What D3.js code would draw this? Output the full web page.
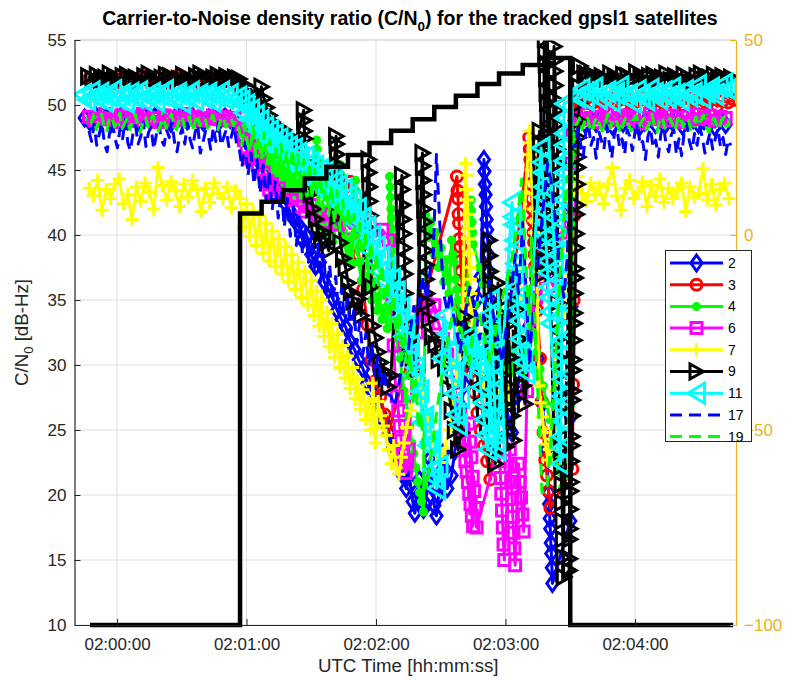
<!DOCTYPE html>
<html>
<head>
<meta charset="utf-8">
<script src="https://cdn.jsdelivr.net/npm/d3@7"></script>
<style>
html, body { margin: 0; padding: 0; background: #fff; }
svg { display: block; font-family: "Liberation Sans", Arial, Helvetica, sans-serif; }
</style>
</head>
<body>
<svg id="chart" width="792" height="680"></svg>
<script>
// ---------------------------------------------------------------------------
// C/N0 logs per satellite. Time is in seconds after 02:00:00 UTC.
// Each run is [startTime, sampleInterval, value, value, ...] in dB-Hz.
// ---------------------------------------------------------------------------
const prnLabels = ["2", "3", "4", "6", "7", "9", "11", "17", "19"];

const cn0Prn2 = [
  [-15, 2.5, 49.0,48.7,49.2,48.9,49.1,48.6,49.0,49.3,48.8,49.0,48.7,49.2,48.9,49.1,48.8,49.0,48.6,49.2,49.0,48.8,49.1,48.9,48.7,49.0,49.2,48.8,49.1,48.9],
  [56, 2, 48.4,47.6,48.0,46.9,46.5,45.6,45.9,44.8,44.2,43.5,43.9,42.4,41.9,41.2,40.8,39.6,39.9,38.5,37.6,37.9,36.4,35.8,35.1,34.2,33.5,32.9,31.8,31.2,30.4,29.7,28.6,28.0,27.2,26.3,25.6,24.8,23.7,22.9,21.6,20.5],
  [135, 1, 22.0,20.8,19.5,18.6,19.8,21.2,20.1,18.9,19.3,21.5,22.8,20.6,19.2,18.4,19.9,21.8,23.2,22.0,20.5],
  [155, 1.5, 21.5,23.4,25.0,26.8,28.5,30.2,32.0,33.6,35.1,36.8],
  [170, 0.25, 45.8,44.9,43.9,43.1,42.2,41.2,40.4,39.6,38.5,37.2],
  [173, 2, 35.0,32.6,30.4,28.5,26.2,24.8,27.5,29.8,31.5,33.0,34.2,30.5,27.0,23.5],
  [200, 0.25, 20.2,19.3,18.2,17.4,16.3,15.5,14.4,13.2],
  [210, 0.3, 18.0,26.0,34.5,42.0,47.5],
  [212, 2.5, 48.8,49.0,48.5,48.9,48.6,49.1,48.7,48.4,48.9,48.6,49.0,48.8,48.3,48.7,49.0,48.5,48.9,48.6,48.8,49.1,48.4,48.7,48.9,48.5,48.8,48.6,48.3,48.9,48.5]
];

const cn0Prn3 = [
  [-13, 2.5, 52.0,51.8,52.1,51.9,52.2,51.7,52.0,52.1,51.8,52.0,52.2,51.9,51.8,52.1,52.0,51.7,52.2,51.9,52.0,52.1,51.8,52.0,51.9,52.2,52.0,51.8,52.1,51.9],
  [57, 1.5, 51.2,50.8,50.2,50.0,49.4,48.8,48.5,47.9,47.2,46.8],
  [72, 3, 47.0,46.3,46.8,45.9,46.1,45.4,45.0,45.6,44.8,44.2,44.7,43.6,44.1],
  [110, 2, 41.2,38.5,35.8,33.1,30.4,28.8,27.6,26.2,24.9],
  [157.5, 0.25, 44.5,43.4,42.8,41.6,40.9,39.7,39.1,38.0,37.2,36.5,35.3,34.7,33.6],
  [161, 1.5, 32.4,30.8,29.5,27.9,26.3,25.0,23.8,22.6,21.2],
  [191, 0.25, 47.5,46.6,45.8,44.7,43.9,42.8,42.0,41.1,40.2,39.4,38.5,37.6,36.7,35.9,35.0,34.2],
  [196, 0.8, 30.5,27.2,24.8,22.7,21.5,20.3,19.0],
  [211, 0.3, 22.0,28.5,35.0,41.5,47.0,50.2],
  [213, 2.6, 50.4,50.1,50.6,50.2,50.3,49.9,50.5,50.2,50.0,50.4,50.1,50.3,50.6,50.2,49.9,50.3,50.1,50.4,50.2,50.0,50.5,50.3,50.1,50.2,50.4,49.9,50.3,50.2,50.4]
];

const cn0Prn4 = [
  [-13, 2.5, 48.8,49.1,48.6,48.9,49.2,48.7,48.9,48.5,49.0,48.8,49.1,48.6,48.9,48.7,49.2,48.8,48.5,49.0,48.9,48.7,49.1,48.8,48.6,49.0,48.9,48.7,49.1,48.8],
  [58, 1.3, 48.4,47.2,48.0,46.6,47.5,46.1,47.0,45.7,46.6,45.3,46.2,44.9,45.8,44.4,45.3,44.0,44.9,43.6,44.5,43.1,44.0,42.7,43.6,42.2,43.1,41.8],
  [92.5, 0.2, 47.3,46.6,45.8,45.0,44.1,43.2],
  [94, 1.2, 41.5,40.6,42.0,40.1,41.3,39.5,40.7],
  [103.5, 0.2, 45.4,44.6,43.7,42.8,41.9,41.0,40.1],
  [105.5, 1.2, 39.3,38.2,39.6,37.8],
  [110.5, 0.2, 44.2,43.4,42.5,41.6,40.7,39.8],
  [112, 1.2, 37.9,36.5,37.6,35.8,36.9,35.0,36.1,34.2,35.3,33.5,34.4,32.8],
  [126.3, 0.2, 44.5,43.7,42.9,42.0,41.3,40.5,39.6,38.8,37.2,35.0],
  [128.5, 0.9, 33.6,32.4,31.2,30.5,29.1,28.0,27.4,26.1,25.3,24.0,23.2,22.1,21.0,20.2,19.5,18.7],
  [143, 1.2, 41.5,39.8,41.0,38.6,40.2,37.5,39.0,36.4,38.1,35.5],
  [155, 0.6, 39.6,38.5,37.9,36.6,35.8,35.0,34.1,33.5,32.7,32.0,33.2,32.4],
  [164, 0.25, 42.7,41.9,41.0,40.2,39.3],
  [168, 1.6, 37.5,36.2,34.8,33.9,33.0,32.1,31.5,30.6,30.0,29.4,31.2,30.1,29.5,28.8],
  [190, 1.5, 35.2,33.8,32.5,31.0,29.7,28.4,27.0,25.8,24.5,23.0,21.8,20.6,21.5,23.2],
  [210.5, 0.4, 27.0,34.0,41.0,46.5],
  [212.5, 2.5, 48.9,48.6,49.1,48.7,48.9,48.5,49.0,48.8,48.6,49.2,48.7,48.9,48.8,48.5,49.0,48.9,48.6,49.1,48.8,48.7,48.9,49.0,48.6,48.8,49.1,48.7,48.9,48.8,48.6]
];

const cn0Prn6 = [
  [-13, 2.5, 49.1,48.8,49.0,49.3,48.9,48.7,49.2,49.0,48.8,49.1,49.3,48.9,49.0,48.7,49.2,49.1,48.8,49.0,49.3,48.9,49.1,48.8,49.0,49.2,48.9,49.1,48.8,49.0],
  [57.5, 1.3, 48.2,47.3,46.6,45.9,46.8,46.1,45.4,45.9,44.8,44.2,43.5,43.9,43.2],
  [75, 3, 43.6,43.0,42.7,42.2,41.8,42.3,41.5,41.0,41.6,40.8,41.2,40.5,41.0,40.2,40.8,39.9,40.4,39.6],
  [127.5, 0.7, 35.2,31.5,28.8,27.6,26.5,25.3,24.2,23.1,22.4,21.7,22.6,23.5],
  [137, 2, 30.2,32.5,34.1,35.0,33.8,34.6,33.2,32.0,30.8,29.5,27.8],
  [159, 0.6, 26.0,25.2,24.3,23.5,22.6,21.8,21.0,20.1,19.3,18.4,17.6],
  [163, 0.6, 25.5,24.1,22.9,21.4,20.3,19.0,17.5],
  [177, 0.35, 23.8,22.6,21.3,20.1,18.8,17.5,16.2,15.0],
  [182, 0.35, 23.5,22.2,21.0,19.7,18.3,17.1,15.9,14.6],
  [186, 0.6, 22.4,21.0,19.8,18.5,17.2],
  [190, 2, 28.0,33.5,35.2,36.8,38.2,37.0,36.1,38.5,40.2],
  [210, 0.5, 42.0,45.5,48.0],
  [212, 2.5, 49.2,48.9,49.3,49.0,48.7,49.1,49.4,48.8,49.0,49.2,48.9,49.1,48.6,49.0,49.3,48.9,49.1,48.8,49.2,49.0,48.7,49.1,49.3,48.9,49.0,49.2,48.8,49.1,49.0]
];

const cn0Prn7 = [
  [-13, 2, 43.6,43.0,44.2,41.9,43.5,42.8,43.9,44.3,42.4,43.1,41.2,43.7,42.6,44.0,43.3,42.0,45.2,43.8,42.7,44.1,43.4,42.2,43.9,42.9,44.2,43.5,41.8,43.6,42.5,44.0,43.2,42.8,43.7,42.1,43.4],
  [57, 1.5, 42.8,40.6,42.4,39.9,41.8,39.2,41.5,38.6,40.9,38.0,40.3,37.6,39.7,37.0,39.1,36.4,38.5,35.8,37.9,35.2,37.2,34.6],
  [90, 1.2, 36.5,33.8,35.7,33.0,35.0,32.2,34.1,31.4,33.2,30.6,32.4,29.8,31.5,29.0,30.7,28.2,29.8,27.4,28.9,26.6,28.1,25.8,27.2,25.0],
  [118.5, 0.3, 28.6,27.4,26.3,25.1,24.0],
  [121, 1.2, 27.2,26.1,25.3,24.6,23.5,22.4,23.8,22.1,21.6,22.9,24.0,25.2],
  [136, 2, 26.5,28.0,29.2,27.5,25.8,24.4,23.1,22.5,23.6,25.0,27.3,30.1,33.0],
  [161.5, 0.25, 45.5,44.6,43.5,42.7,41.6,40.5,39.7,38.6,37.5,36.6,35.5,34.4,33.6,32.7],
  [165.5, 1.5, 31.8,30.5,29.6,28.4,27.5,28.9,27.2,26.4,27.8,26.9,28.6,27.4,26.8],
  [191, 0.3, 48.0,47.1,46.2,45.0,44.1,43.2,42.0,41.1,40.2,39.0,38.1,37.2,36.5],
  [195.5, 0.8, 28.4,27.1,26.0,24.8,23.9,22.7,23.5,25.1,26.8],
  [203, 1.5, 28.0,30.5,32.0,35.5,39.0],
  [211.5, 2, 43.5,44.5,43.2,42.6,44.0,43.1,43.7,42.4,43.9,45.2,43.0,41.9,43.6,44.2,42.8,43.3,44.1,42.2,43.8,43.0,44.3,42.5,43.6,42.8,43.4,44.0,41.8,43.7,42.9,43.2,45.1,42.7,43.9,42.3,43.5,44.0,42.8]
];

const cn0Prn9 = [
  [-13.4, 2, 52.2,52.0,52.3,51.9,52.1,52.4,52.0,51.8,52.2,52.3,52.0,52.1,51.9,52.2,52.4,52.0,51.8,52.1,52.3,52.2,51.9,52.0,52.3,52.1,51.8,52.2,52.4,52.0,51.9,52.1,52.3,52.0,52.2,51.9,52.1,52.0],
  [58.5, 1.2, 51.6,51.0,50.4,51.2,50.6,50.0,49.6,51.4,50.5,49.8,49.2,48.7,48.3],
  [74, 1.5, 48.4,47.8,48.1,47.3,47.6,46.9,47.2],
  [86.5, 0.15, 49.6,48.8,48.0,47.4],
  [88.5, 1.2, 45.5,43.2,42.0,41.2,40.3,39.6,40.2,39.4,38.8],
  [101.5, 0.2, 47.6,47.0,46.2,45.4,44.5,43.0,41.5],
  [103.5, 1.2, 39.4,38.2,37.5,36.3,35.6,34.9,34.2,35.1,33.8],
  [116.5, 0.2, 45.8,44.8,43.7,42.6,41.5,40.4,38.5,36.0],
  [118.5, 1.2, 33.0,32.1,31.0,30.2,29.5,29.0,28.3,29.2],
  [132, 0.2, 44.6,43.5,42.3,41.2,40.1,39.0,38.0,37.0,35.5],
  [134, 1.5, 33.5,31.8,30.5,29.6],
  [141.5, 0.2, 46.3,45.3,44.2,43.1,42.0,41.0,39.9,38.8,37.7,36.6,35.5,34.8],
  [144.5, 1.5, 33.5,32.2,31.6,30.4,31.5,29.8,28.2,26.5,25.0,23.5,24.8,33.7,32.6,31.7],
  [165.5, 1.5, 30.5,29.0,27.8,26.4,25.2],
  [172.5, 0.2, 39.6,38.4,37.2,35.9,34.7,33.4,32.1,30.9,29.6,28.4,27.1,25.9,24.6,23.4,22.4],
  [176.5, 0.6, 36.3,34.0,31.5,29.2,27.0,25.2,23.7,35.2,33.1,30.6,28.3,26.1,24.2],
  [185, 0.8, 36.5,34.2,32.0,30.1,28.4,27.0],
  [195.8, 0.15, 48.0,47.0,46.0,45.0,44.0,43.0,42.0,41.0,40.0,39.0,38.0,37.0],
  [198, 0.2, 56.0,55.1,54.0,53.2,52.1,51.0,50.2,49.1,48.0,47.2,46.1,45.0,44.2,43.1,42.0,41.2,40.1,39.0,38.2,37.0],
  [202.5, 0.2, 54.5,53.4,52.6,51.5,50.4,49.6,48.5,47.4,46.6,45.5],
  [204, 0.2, 34.8,33.4,32.0,30.6,29.2,27.8,26.4,25.0,23.6,22.2,20.8,19.4,18.0,16.6,15.2,13.7],
  [209.5, 0.15, 14.2,15.1,16.6,17.4,18.9,20.3,21.0,22.6,23.8,24.5,26.1,27.3,28.0,29.6,30.4,31.9,33.2,34.0,35.5,36.7,37.4,39.0,40.1,41.6,42.3,43.9,45.2,46.0,47.5,48.8,50.1,51.4],
  [214.5, 2, 53.0,52.4,52.1,52.3,51.9,52.2,52.0,52.4,52.1,51.8,52.3,52.2,52.0,52.5,52.1,51.9,52.2,52.3,52.0,52.1,52.4,51.9,52.2,52.0,52.3,52.1,51.8,52.2,52.4,52.0,52.1,52.3,51.9,52.2,52.0,52.1]
];

const cn0Prn11 = [
  [-16, 2, 50.8,50.4,51.0,50.6,50.9,50.3,50.7,51.1,50.5,50.8,50.2,50.9,50.6,51.0,50.4,50.7,50.9,50.3,50.8,51.1,50.5,50.6,50.9,50.2,50.7,51.0,50.4,50.8,50.6,50.9,50.3,50.7,51.0,50.5,50.8,50.4,50.6],
  [57.5, 1.1, 50.3,49.4,50.0,48.9,49.6,48.5,49.2,48.0,48.8,47.6,48.3,47.2,48.0,46.9,47.7,46.5,47.4,46.2,47.1,45.8,46.8,45.5,46.6,45.3,46.3,45.9,44.8,46.0,44.5,45.6,44.2,45.3,43.9,45.0,43.6,44.8,43.2,44.5,42.9,44.1,42.6,43.8,42.2,43.5,41.9,43.0,41.5,42.6,40.9,42.0,40.2,41.3,39.5,40.6,38.8,39.9,38.0,39.1,37.2,38.3,36.5],
  [125, 1.1, 37.5,35.6,36.6,34.7,35.6,33.5,34.4,32.2,33.0,30.8,31.5,29.2,29.8,27.5,28.0,25.6,26.0,23.8,24.1,22.0,21.3,20.5,22.2],
  [150.5, 1.1, 30.5,33.8,32.4,31.0,29.4,27.8,26.2,25.4,27.5,29.8,31.5,32.2,31.4,30.6,31.3,30.1,29.6],
  [168.5, 0.8, 28.3,27.1,25.8,24.6,23.5,24.8],
  [173, 0.25, 35.0,34.0,33.1,32.0,31.1,30.0,29.0,28.1,27.0,26.1,25.0,24.1,23.5],
  [183, 0.3, 42.5,41.4,40.8,39.6,38.9,37.8,37.1,36.0,35.2,34.3,33.4],
  [186.5, 1, 32.0,31.1,30.2,29.4],
  [196.5, 0.3, 46.7,45.6,44.8,43.7,42.9,41.8,40.9,39.9,39.0,38.0,37.1,36.0,35.2,34.1,33.2],
  [205.5, 0.06, 22.4,23.6,24.5,25.7,26.8,27.6,28.9,29.7,30.8,31.9,32.7,33.9,34.8,35.9,36.7,37.8,38.9,39.7,40.9,41.8,42.7,43.9,44.8,45.7,46.9,47.8,49.0,50.1],
  [213, 2, 50.6,51.2,50.4,50.9,51.3,50.5,50.8,51.0,50.3,50.9,51.4,50.6,50.8,50.2,51.1,50.7,50.4,51.2,50.9,50.5,51.0,50.6,51.3,50.8,50.4,51.1,50.7,50.9,51.5,50.6,51.0,51.3,50.8,51.4,51.6,51.2]
];

const cn0Prn17 = [
  [-13, 1.2, 48.0,47.2,48.5,46.9,47.8,48.6,47.0,46.4,47.9,48.8,47.5,46.7,48.2,47.4,48.9,47.1,46.5,47.8,48.4,47.0,47.6,48.7,46.8,47.9,48.3,46.6,47.7,48.5,47.3,46.9,48.1,47.5,48.8,47.2,46.4,47.6,48.2,47.0,48.6,47.4,46.7,47.9,48.5,46.3,47.1,48.0,47.7,46.6,48.3,47.2,48.7,46.9,47.5,48.1,46.8,47.6,48.4,47.0],
  [56.5, 1.4, 46.8,45.2,47.1,44.6,46.3,43.9,45.8,43.2,45.4,42.6,44.9,41.9,44.1,41.3,43.5,40.6,42.8,39.9,42.2,39.2,41.5,38.6,40.7,37.9,40.1,37.1,39.3,36.4,38.5,35.6,37.7,34.9,36.8,34.1,35.9,33.2,35.1,32.4,34.2,31.6,33.3,30.8,32.4,30.0,31.5,29.2,30.6,28.5,29.6,27.8],
  [127, 1.5, 27.6,26.8,27.9,29.5,31.2,30.4,32.8,34.5,33.2,35.6,36.8,35.1,37.2,38.4],
  [148, 0.3, 46.2,45.1,44.0,43.2,42.1,41.0,40.2,39.1,38.0,37.2],
  [151.5, 1.5, 35.4,34.1,35.6,33.8,32.5,31.0,33.2,34.6,36.0,34.8,33.5,32.0,33.6,35.1,36.5,34.2,32.8,31.5,30.2,32.4,34.0,36.2,38.5,35.5],
  [188, 0.4, 41.0,39.5,38.2,36.8,35.5,34.1,32.6,31.3,30.0],
  [192, 1.5, 32.5,35.0,37.8,40.5,43.0,45.5,44.2,42.0,39.5,37.0,35.2,38.0],
  [210, 1.2, 44.0,47.5,46.8,48.2,47.0,46.0,47.9,48.6,46.9,47.5,45.9,48.0,47.3,46.6,48.4,47.1,45.9,47.7,48.3,46.8,47.4,46.2,48.1,47.6,46.5,47.9,48.5,46.9,47.2,45.8,47.6,48.2,46.7,47.3,46.0,47.8,48.4,47.0,46.4,47.7,48.1,46.2,47.4,46.1,47.9,48.6,47.2,46.5,47.8,46.9,48.3,47.5,46.3,47.1,47.9,46.6,47.4,48.2,46.8,47.5,46.2,47.3,46.9]
];

const cn0Prn19 = [
  [-12, 1.2, 48.6,49.2,48.1,48.8,49.3,48.4,48.0,48.9,49.1,48.3,48.7,49.4,48.2,48.6,49.0,48.1,48.8,49.3,48.5,47.9,48.7,49.1,48.3,48.9,49.2,48.4,48.0,48.6,49.0,48.2,48.8,49.3,48.5,48.1,48.9,49.2,48.3,48.7,49.1,48.0,48.6,49.3,48.4,48.8,49.0,48.2,48.7,49.2,48.5,48.1,48.9,49.1,48.3,48.6,49.0,48.4,48.8],
  [56.5, 1.3, 48.2,46.9,48.6,47.1,46.4,48.3,46.0,47.6,45.8,47.9,45.5,47.3,45.1,46.8,44.6,47.0,44.9,46.4,44.2,46.6,44.0,46.2,43.6,45.8,43.1,45.5,42.8,45.1,42.4,44.6,41.9,44.3,41.5,43.8,40.9,43.4,40.3,42.7,39.8,42.1,39.2,41.6,38.5,40.9,37.8,40.2,37.0,39.5,36.1,38.6,35.3,37.7,34.2,36.5,33.0,35.4,31.8,34.1,30.4,32.6,29.0,30.9,27.2,28.8,25.1,26.3,22.4,20.6],
  [145, 2, 22.5,25.0,27.4,29.6,31.8,33.5,35.0,33.2,31.5,30.0,32.5,34.8,33.0,31.6,30.2,32.1,33.8,35.5,36.8,38.2,40.5],
  [187.5, 0.35, 44.3,43.1,42.0,40.8,39.7,38.5,37.4,36.2,35.1,33.9,32.8],
  [192, 0.35, 39.8,38.4,37.0,35.6,34.2,32.8,31.4,30.0,28.6,27.2,25.8,24.4,23.0,21.6,20.2],
  [197.5, 1.6, 20.2,20.3],
  [201, 1.5, 24.0,28.5,33.0,37.5,41.0,44.5],
  [210, 0.3, 40.2,41.8,43.0,44.6,45.9,47.2,48.5],
  [213, 1.2, 48.5,49.0,48.1,48.7,49.2,48.3,47.9,48.8,49.1,48.4,48.0,48.6,49.3,48.2,48.8,49.0,48.3,47.8,48.6,49.1,48.5,48.0,48.9,49.2,48.3,48.7,49.0,48.1,48.6,49.3,48.4,47.9,48.8,49.1,48.2,48.6,49.0,48.5,48.0,48.9,49.2,48.3,48.7,49.0,48.1,48.6,49.1,48.4,48.8,49.2,48.3,47.9,48.7,49.0,48.5,48.1,48.9,49.1,48.4,48.7]
];

// Right-axis step trace (change times in seconds and the held value).
const stepTimes  = [-12.5, 57, 67, 77, 87, 97, 107, 117, 127, 137, 147, 157, 167, 177, 188, 198, 210, 285.5];
const stepValues = [-100, 5.5, 8.5, 11.5, 14.5, 17.5, 20.5, 23.6, 26.7, 29.7, 32.8, 35.7, 38.7, 41.4, 43.6, 45.4, -100, -100];

// Axis ticks
const xTickSecs   = [0, 60, 120, 180, 240];
const xTickLabels = ["02:00:00", "02:01:00", "02:02:00", "02:03:00", "02:04:00"];
const yTicks      = [10, 15, 20, 25, 30, 35, 40, 45, 50, 55];
const yRightTicks = [-100, -50, 0, 50];

// ---------------------------------------------------------------------------
// Styling per series (same order as prnLabels)
// ---------------------------------------------------------------------------
const seriesData = [cn0Prn2, cn0Prn3, cn0Prn4, cn0Prn6, cn0Prn7, cn0Prn9, cn0Prn11, cn0Prn17, cn0Prn19];
const seriesColor = ["#0000ff", "#ff0000", "#00ff00", "#ff00ff", "#ffff00", "#000000", "#00ffff", "#0000ff", "#00ff00"];
const seriesMarker = ["diamond", "circle", "star", "square", "plus", "right", "left", null, null];
const seriesDash = [null, null, null, null, null, null, null, "12,7", "12,7"];

const markerPaths = {
  diamond: "M0,-8L5.6,0L0,8L-5.6,0Z",
  circle: "M5.5,0A5.5,5.5 0 1,1 -5.5,0A5.5,5.5 0 1,1 5.5,0Z",
  star: "M-4.5,0H4.5M0,-4.5V4.5M-3.2,-3.2L3.2,3.2M-3.2,3.2L3.2,-3.2",
  square: "M-5.5,-5.5H5.5V5.5H-5.5Z",
  plus: "M-6.5,0H6.5M0,-6.5V6.5",
  right: "M7,0L-6.5,-7.5L-6.5,7.5Z",
  left: "M-8.5,0L8,-10L8,10Z"
};

// ---------------------------------------------------------------------------
const plot = { left: 74.5, right: 736, top: 40, bottom: 625 };
const axisColor = "#262626";
const rightColor = "#EDB120";

const svg = d3.select("#chart");

const x = d3.scaleLinear().domain([-19.7, 286.8]).range([plot.left, plot.right]);
const y = d3.scaleLinear().domain([10, 55]).range([plot.bottom, plot.top]);
const yR = d3.scaleLinear().domain([-100, 50]).range([plot.bottom, plot.top]);

function expand(runs) {
  const pts = [];
  runs.forEach(r => {
    const t0 = r[0], dt = r[1];
    for (let i = 2; i < r.length; i++) pts.push([t0 + (i - 2) * dt, r[i]]);
  });
  return pts;
}

// grid
const grid = svg.append("g").attr("stroke", "#dfdfdf").attr("stroke-width", 1);
yTicks.forEach(v => grid.append("line")
  .attr("x1", plot.left).attr("x2", plot.right)
  .attr("y1", y(v)).attr("y2", y(v)));
xTickSecs.forEach(t => grid.append("line")
  .attr("x1", x(t)).attr("x2", x(t))
  .attr("y1", plot.top).attr("y2", plot.bottom));

// clip to the axes box
svg.append("defs").append("clipPath").attr("id", "plotClip")
  .append("rect").attr("x", plot.left).attr("y", plot.top)
  .attr("width", plot.right - plot.left).attr("height", plot.bottom - plot.top);

const dataG = svg.append("g").attr("clip-path", "url(#plotClip)");
const line = d3.line().x(d => x(d[0])).y(d => y(d[1]));

seriesData.forEach((runs, i) => {
  const pts = expand(runs);
  const g = dataG.append("g");
  const p = g.append("path").datum(pts)
    .attr("d", line)
    .attr("fill", "none")
    .attr("stroke", seriesColor[i])
    .attr("stroke-width", 3)
    .attr("stroke-linejoin", "round");
  if (seriesDash[i]) p.attr("stroke-dasharray", seriesDash[i]);
  if (seriesMarker[i]) {
    g.selectAll("path.m").data(pts).enter().append("path")
      .attr("class", "m")
      .attr("d", markerPaths[seriesMarker[i]])
      .attr("transform", d => `translate(${x(d[0])},${y(d[1])})`)
      .attr("fill", "none")
      .attr("stroke", seriesColor[i])
      .attr("stroke-width", 3);
  }
});

// right-axis step trace
const stepPts = stepTimes.map((t, i) => [t, stepValues[i]]);
svg.append("path").datum(stepPts)
  .attr("d", d3.line().x(d => x(d[0])).y(d => yR(d[1])).curve(d3.curveStepAfter))
  .attr("fill", "none")
  .attr("stroke", "#000")
  .attr("stroke-width", 4.5);

// top edge
svg.append("line").attr("x1", plot.left).attr("x2", plot.right)
  .attr("y1", plot.top).attr("y2", plot.top)
  .attr("stroke", "#d9d9d9").attr("stroke-width", 1.2);

// axes
const fontTick = 17;
const xAxis = svg.append("g").attr("transform", `translate(0,${plot.bottom})`)
  .call(d3.axisBottom(x).tickValues(xTickSecs).tickFormat((d, i) => xTickLabels[i])
    .tickSizeInner(-6).tickSizeOuter(0).tickPadding(13));
const yAxis = svg.append("g").attr("transform", `translate(${plot.left},0)`)
  .call(d3.axisLeft(y).tickValues(yTicks).tickFormat(d3.format("d"))
    .tickSizeInner(-6).tickSizeOuter(0).tickPadding(8));
const yAxisR = svg.append("g").attr("transform", `translate(${plot.right},0)`)
  .call(d3.axisRight(yR).tickValues(yRightTicks).tickFormat(d3.format("d"))
    .tickSizeInner(-6).tickSizeOuter(0).tickPadding(8));

[xAxis, yAxis].forEach(a => {
  a.select(".domain").attr("stroke", axisColor).attr("stroke-width", 1.2);
  a.selectAll(".tick line").attr("stroke", axisColor);
  a.selectAll("text").attr("fill", axisColor).attr("font-size", fontTick)
    .attr("font-family", "Liberation Sans, Arial, sans-serif");
});
yAxisR.select(".domain").attr("stroke", rightColor).attr("stroke-width", 1.2);
yAxisR.selectAll(".tick line").attr("stroke", rightColor);
yAxisR.selectAll("text").attr("fill", rightColor).attr("font-size", fontTick)
  .attr("font-family", "Liberation Sans, Arial, sans-serif");

// axis labels
svg.append("text")
  .attr("x", (plot.left + plot.right) / 2 + 3).attr("y", 672)
  .attr("text-anchor", "middle").attr("font-size", 18.7).attr("fill", axisColor)
  .text("UTC Time [hh:mm:ss]");

const yl = svg.append("text")
  .attr("transform", `translate(28,${(plot.top + plot.bottom) / 2}) rotate(-90)`)
  .attr("text-anchor", "middle").attr("font-size", 18.7).attr("fill", axisColor);
yl.append("tspan").text("C/N");
yl.append("tspan").attr("font-size", 13).attr("dy", 5).text("0");
yl.append("tspan").attr("dy", -5).text(" [dB-Hz]");

// title
const title = svg.append("text")
  .attr("x", 410).attr("y", 25)
  .attr("text-anchor", "middle").attr("font-size", 19.5)
  .attr("font-weight", "bold").attr("fill", "#000");
title.append("tspan").text("Carrier-to-Noise density ratio (C/N");
title.append("tspan").attr("font-size", 13.5).attr("dy", 6).text("0");
title.append("tspan").attr("dy", -6).text(") for the tracked gpsl1 satellites");

// legend
const leg = svg.append("g");
leg.append("rect").attr("x", 665.5).attr("y", 250.5).attr("width", 86).attr("height", 191)
  .attr("fill", "#fff").attr("stroke", "#262626").attr("stroke-width", 1);
prnLabels.forEach((lab, i) => {
  const cy = 263 + i * 21.7;
  const l = leg.append("line").attr("x1", 670).attr("x2", 723).attr("y1", cy).attr("y2", cy)
    .attr("stroke", seriesColor[i]).attr("stroke-width", 3);
  if (seriesDash[i]) l.attr("stroke-dasharray", seriesDash[i]);
  if (seriesMarker[i]) {
    leg.append("path").attr("d", markerPaths[seriesMarker[i]])
      .attr("transform", `translate(696.5,${cy})`)
      .attr("fill", "none").attr("stroke", seriesColor[i]).attr("stroke-width", 3);
  }
  leg.append("text").attr("x", 728).attr("y", cy).attr("dy", "0.35em")
    .attr("font-size", 14).attr("fill", "#000").text(lab);
});
</script>
</body>
</html>
